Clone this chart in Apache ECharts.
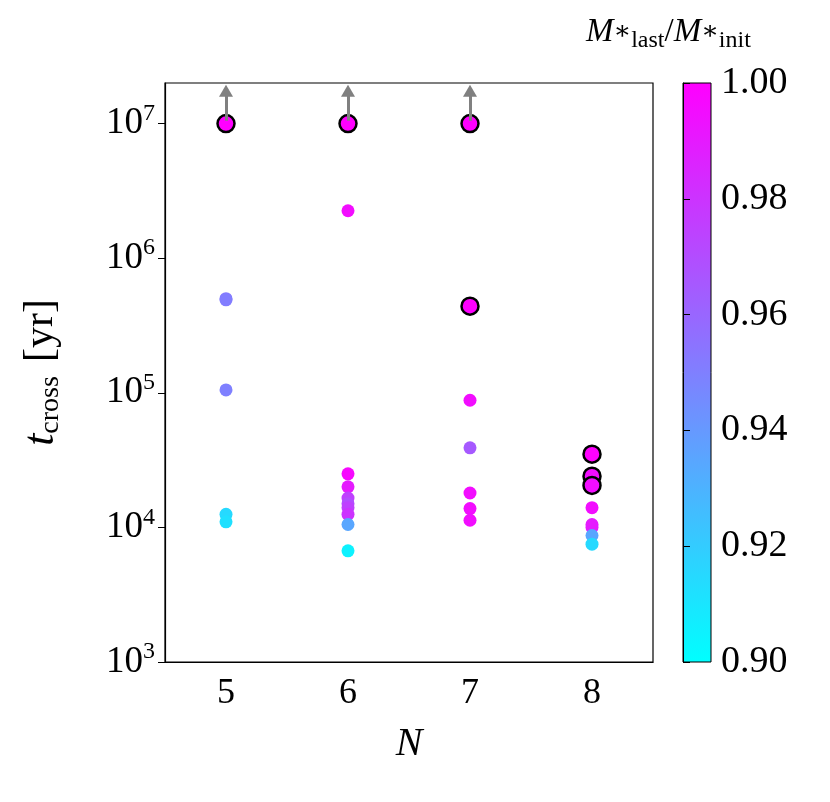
<!DOCTYPE html>
<html><head><meta charset="utf-8">
<script src="https://cdn.jsdelivr.net/npm/echarts@6/dist/echarts.min.js"></script>
<style>body{margin:0}#c{width:830px;height:802px}</style></head>
<body><div id="c"></div>
<script>
const categories = ['5','6','7','8'];
// [category, t_cross (yr), M_last/M_init]
const points = [
 ['5',5.0e5,0.952],['5',4.9e5,0.951],['5',1.05e5,0.950],['5',1.25e4,0.915],['5',1.1e4,0.912],
 ['6',2.25e6,0.995],['6',2.5e4,0.997],['6',2.0e4,0.99],['6',1.65e4,0.975],['6',1.5e4,0.97],['6',1.4e4,0.975],['6',1.25e4,0.98],['6',1.05e4,0.935],['6',6.7e3,0.905],
 ['7',8.8e4,0.995],['7',3.9e4,0.965],['7',1.8e4,0.995],['7',1.38e4,0.995],['7',1.13e4,0.995],
 ['8',1.4e4,0.995],['8',1.05e4,0.99],['8',1.0e4,0.99],['8',8.7e3,0.935],['8',7.5e3,0.915]
];
const ringed = [
 ['5',1e7,1.0],['6',1e7,1.0],['7',1e7,1.0],['7',4.4e5,1.0],['8',3.5e4,1.0],['8',2.4e4,0.995],['8',2.05e4,0.995]
];
const lowerLimits = ['5','6','7'];
const arrowTop = 1.75e7;

const font = 'Liberation Serif, DejaVu Serif, serif';
const chart = echarts.init(document.getElementById('c'));
chart.setOption({
 animation:false,
 textStyle:{fontFamily:font},
 grid:[{left:165,top:83,width:488,height:579,show:true,borderColor:'#000',borderWidth:1.2,backgroundColor:'transparent'},
       {left:683,top:83,width:28,height:579}],
 xAxis:[{type:'category',data:categories,gridIndex:0,boundaryGap:true,
   axisLine:{lineStyle:{color:'#000',width:1.2}},
   axisTick:{alignWithLabel:true,length:7,lineStyle:{color:'#000'}},
   axisLabel:{color:'#000',fontSize:36,margin:14,fontFamily:font},
   name:'N',nameLocation:'middle',nameGap:62,nameTextStyle:{fontSize:40,fontStyle:'italic',color:'#000',fontFamily:font}},
  {type:'value',gridIndex:1,show:false,min:0,max:1}],
 yAxis:[{type:'log',gridIndex:0,min:1e3,max:2e7,logBase:10,
   axisLine:{show:true,lineStyle:{color:'#000',width:1.2}},
   axisTick:{show:true,length:7,lineStyle:{color:'#000'}},
   minorTick:{show:false},splitLine:{show:false},
   axisLabel:{color:'#000',fontFamily:font,showMaxLabel:false,margin:10,
     formatter:v=>{const e=Math.round(Math.log10(v)); if(Math.abs(Math.log10(v)-e)>0.01) return ''; return '{b|10}{s|'+e+'}';},
     rich:{b:{fontSize:37,fontFamily:font,color:'#000'},s:{fontSize:24,fontFamily:font,color:'#000',verticalAlign:'top',padding:[0,0,20,0]}}},
   name:'{i|t}{sub|cross}{sp| }{n|[yr]}',nameLocation:'middle',nameGap:100,nameRotate:90,
   nameTextStyle:{rich:{i:{fontSize:44,fontStyle:'italic',fontFamily:font,color:'#000'},sub:{fontSize:28,fontFamily:font,color:'#000',padding:[20,0,0,0]},sp:{fontSize:30,width:14},n:{fontSize:42,fontFamily:font,color:'#000'}}}},
  {type:'value',gridIndex:1,min:0.9,max:1.0,interval:0.02,position:'right',
   axisLine:{show:true,lineStyle:{color:'#000'}},axisTick:{show:true,length:7,lineStyle:{color:'#000'}},
   splitLine:{show:false},
   axisLabel:{color:'#000',fontSize:38,fontFamily:font,margin:10,formatter:v=>v.toFixed(2)}}],
 visualMap:{show:false,min:0.9,max:1.0,dimension:2,seriesIndex:[0,1],inRange:{color:['#00ffff','#ff00ff']}},
 graphic:[{type:'rect',shape:{x:683,y:83,width:28,height:579},z:-1,
   style:{stroke:'#000',lineWidth:1,fill:new echarts.graphic.LinearGradient(0,0,0,1,[{offset:0,color:'#ff00ff'},{offset:1,color:'#00ffff'}])}},
  {type:'text',left:586,top:16,style:{text:'{i|M}{s|∗}{sub|last}{n|/}{i|M}{s|∗}{sub|init}',
   rich:{i:{fontSize:33,fontStyle:'italic',fontFamily:font},s:{fontSize:26,fontFamily:font},sub:{fontSize:24,fontFamily:font,padding:[16,0,0,0]},n:{fontSize:33,fontFamily:font}}}}],
 series:[
  {type:'scatter',xAxisIndex:0,yAxisIndex:0,symbolSize:13,data:points,z:3,itemStyle:{opacity:1}},
  {type:'scatter',xAxisIndex:0,yAxisIndex:0,symbolSize:17,data:ringed,z:4,itemStyle:{opacity:1,borderColor:'#000',borderWidth:2.5},
   markLine:{silent:true,symbol:['none','triangle'],symbolSize:[14,12],label:{show:false},
    lineStyle:{color:'#808080',width:3,type:'solid'},
    data:lowerLimits.map(c=>[{coord:[c,1.05e7]},{coord:[c,arrowTop]}])}}
 ]
});
</script></body></html>
